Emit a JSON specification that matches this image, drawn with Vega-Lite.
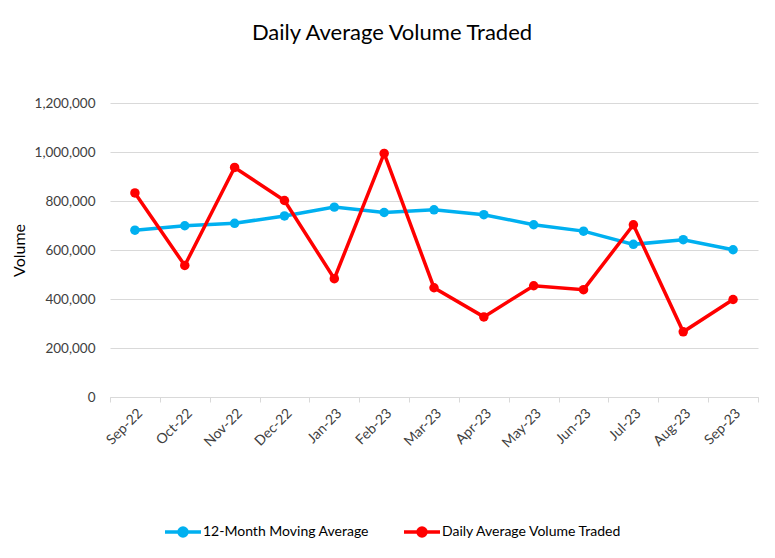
{
  "$schema": "https://vega.github.io/schema/vega-lite/v6.json",
  "autosize": "none",
  "width": 648,
  "height": 294,
  "padding": {"left": 110, "top": 103, "right": 17, "bottom": 161},
  "background": "white",
  "config": {"view": {"stroke": null}, "font": "Lato"},
  "title": {"text": "Daily Average Volume Traded", "fontSize": 22, "fontWeight": "normal", "font": "Lato", "color": "#000000", "anchor": "middle", "frame": "group", "offset": 51, "dx": -42},
  "data": {"values": [
    {"month": "Sep-22", "series": "12-Month Moving Average", "value": 681000},
    {"month": "Oct-22", "series": "12-Month Moving Average", "value": 699000},
    {"month": "Nov-22", "series": "12-Month Moving Average", "value": 709000},
    {"month": "Dec-22", "series": "12-Month Moving Average", "value": 739000},
    {"month": "Jan-23", "series": "12-Month Moving Average", "value": 775000},
    {"month": "Feb-23", "series": "12-Month Moving Average", "value": 753000},
    {"month": "Mar-23", "series": "12-Month Moving Average", "value": 764000},
    {"month": "Apr-23", "series": "12-Month Moving Average", "value": 744000},
    {"month": "May-23", "series": "12-Month Moving Average", "value": 703000},
    {"month": "Jun-23", "series": "12-Month Moving Average", "value": 677000},
    {"month": "Jul-23", "series": "12-Month Moving Average", "value": 623000},
    {"month": "Aug-23", "series": "12-Month Moving Average", "value": 642000},
    {"month": "Sep-23", "series": "12-Month Moving Average", "value": 601000},
    {"month": "Sep-22", "series": "Daily Average Volume Traded", "value": 833000},
    {"month": "Oct-22", "series": "Daily Average Volume Traded", "value": 537000},
    {"month": "Nov-22", "series": "Daily Average Volume Traded", "value": 937000},
    {"month": "Dec-22", "series": "Daily Average Volume Traded", "value": 802000},
    {"month": "Jan-23", "series": "Daily Average Volume Traded", "value": 483000},
    {"month": "Feb-23", "series": "Daily Average Volume Traded", "value": 994000},
    {"month": "Mar-23", "series": "Daily Average Volume Traded", "value": 446000},
    {"month": "Apr-23", "series": "Daily Average Volume Traded", "value": 327000},
    {"month": "May-23", "series": "Daily Average Volume Traded", "value": 454000},
    {"month": "Jun-23", "series": "Daily Average Volume Traded", "value": 438000},
    {"month": "Jul-23", "series": "Daily Average Volume Traded", "value": 703000},
    {"month": "Aug-23", "series": "Daily Average Volume Traded", "value": 266000},
    {"month": "Sep-23", "series": "Daily Average Volume Traded", "value": 398000}
  ]},
  "encoding": {
    "x": {
      "field": "month", "type": "ordinal", "sort": null, "bandPosition": 0.5,
      "scale": {"type": "band", "paddingInner": 0, "paddingOuter": 0},
      "axis": {"title": null, "labelAngle": -45, "tickBand": "extent", "domainColor": "#d9d9d9", "tickColor": "#d9d9d9", "tickSize": 5, "labelFontSize": 14, "labelColor": "#404040", "labelPadding": 4, "grid": false}
    },
    "y": {
      "field": "value", "type": "quantitative",
      "scale": {"domain": [0, 1200000]},
      "axis": {"values": [0, 200000, 400000, 600000, 800000, 1000000, 1200000], "format": ",.0f", "domain": false, "ticks": false, "labelPadding": 15, "labelFontSize": 13.5, "labelColor": "#404040", "title": "Volume", "titleFontSize": 16, "titleFontWeight": "normal", "titleColor": "#000000", "titlePadding": 7, "gridColor": "#d9d9d9", "gridWidth": 1}
    },
    "color": {
      "field": "series", "type": "nominal",
      "scale": {"domain": ["12-Month Moving Average", "Daily Average Volume Traded"], "range": ["#00B0F0", "#FF0000"]},
      "legend": {
        "title": null, "orient": "none", "legendX": 53, "legendY": 409, "direction": "horizontal",
        "symbolType": "M-1,0L1,0M-0.22,0A0.22,0.22,0,1,0,0.22,0A0.22,0.22,0,1,0,-0.22,0Z",
        "symbolSize": 1296, "symbolStrokeWidth": 3.5, "labelFontSize": 14, "labelLimit": 0, "labelColor": "#000000", "columnPadding": 28, "labelOffset": 0,
        "encode": {"symbols": {"update": {"fill": {"scale": "color", "field": "value"}, "stroke": {"scale": "color", "field": "value"}}}}
      }
    }
  },
  "mark": {"type": "line", "strokeWidth": 3.5, "point": {"filled": true, "size": 90}}
}
